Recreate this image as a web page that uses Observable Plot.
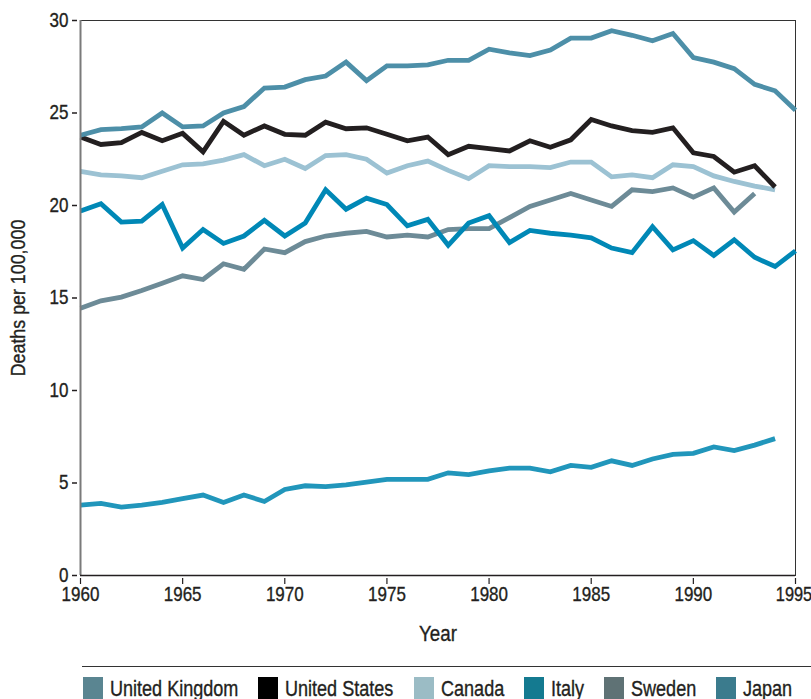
<!DOCTYPE html>
<html>
<head>
<meta charset="utf-8">
<script src="https://cdn.jsdelivr.net/npm/d3@7"></script>
<script src="https://cdn.jsdelivr.net/npm/@observablehq/plot@0.6"></script>
<style>
  html, body { margin: 0; padding: 0; background: #fff; }
  body { width: 811px; height: 699px; overflow: hidden; position: relative;
         font-family: "Liberation Sans", Arial, sans-serif; color: #231f20; }
  #chart { position: absolute; left: 0; top: 0; }
  #chart svg text { stroke: #231f20; stroke-width: 0.35px; }
  #legend { position: absolute; left: 82px; top: 666px; width: 729px; height: 40px;
            border-top: 1.5px solid #333; }
  #legend .sw { position: absolute; top: 10px; width: 20px; height: 26px; }
  #legend .lab { position: absolute; top: 11px; font-size: 22px; line-height: 22px; white-space: nowrap;
                 color: #231f20; transform: scaleX(0.82); transform-origin: 0 0;
                 -webkit-text-stroke: 0.35px #231f20; }
</style>
</head>
<body>
<div id="chart"></div>
<div id="legend"></div>
<script>
// ---- data ----
const years = [1960,1961,1962,1963,1964,1965,1966,1967,1968,1969,
               1970,1971,1972,1973,1974,1975,1976,1977,1978,1979,
               1980,1981,1982,1983,1984,1985,1986,1987,1988,1989,
               1990,1991,1992,1993,1994,1995];

const countries = ["United Kingdom", "United States", "Canada", "Italy", "Sweden", "Japan"];

const unitedKingdom = [23.8, 24.1, 24.15, 24.25, 25.0, 24.25, 24.3, 25.0, 25.35, 26.35,
                       26.4, 26.8, 27.0, 27.75, 26.75, 27.55, 27.55, 27.6, 27.85, 27.85,
                       28.45, 28.25, 28.1, 28.4, 29.05, 29.05, 29.45, 29.2, 28.9, 29.3,
                       28.0, 27.75, 27.4, 26.55, 26.2, 25.15];
const unitedStates = [23.7, 23.3, 23.4, 23.95, 23.5, 23.9, 22.9, 24.55, 23.8, 24.3,
                      23.85, 23.8, 24.5, 24.15, 24.2, 23.85, 23.5, 23.7, 22.75, 23.2,
                      23.07, 22.95, 23.5, 23.15, 23.55, 24.65, 24.3, 24.05, 23.95, 24.2,
                      22.85, 22.65, 21.8, 22.15, 21.0];
const canada = [21.85, 21.65, 21.6, 21.5, 21.85, 22.2, 22.25, 22.45, 22.75, 22.15,
                22.5, 22.0, 22.7, 22.75, 22.5, 21.75, 22.15, 22.4, 21.9, 21.45,
                22.15, 22.1, 22.1, 22.05, 22.35, 22.35, 21.55, 21.65, 21.5, 22.2,
                22.1, 21.6, 21.3, 21.05, 20.85];
const italy = [19.7, 20.1, 19.1, 19.15, 20.05, 17.7, 18.7, 17.95, 18.35, 19.2,
               18.35, 19.05, 20.85, 19.8, 20.4, 20.05, 18.9, 19.25, 17.85, 19.05,
               19.45, 18.0, 18.65, 18.5, 18.4, 18.25, 17.7, 17.45, 18.85, 17.6,
               18.1, 17.3, 18.15, 17.2, 16.7, 17.55];
const sweden = [14.45, 14.85, 15.05, 15.4, 15.8, 16.2, 16.0, 16.85, 16.55, 17.65,
                17.45, 18.05, 18.35, 18.5, 18.6, 18.3, 18.4, 18.3, 18.7, 18.75,
                18.75, 19.35, 19.95, 20.3, 20.65, 20.3, 19.95, 20.85, 20.75, 20.95,
                20.45, 20.95, 19.65, 20.65];
const japan = [3.8, 3.9, 3.7, 3.8, 3.95, 4.15, 4.35, 3.95, 4.35, 4.0,
               4.65, 4.85, 4.8, 4.9, 5.05, 5.2, 5.2, 5.2, 5.55, 5.45,
               5.65, 5.8, 5.8, 5.6, 5.95, 5.85, 6.2, 5.95, 6.3, 6.55,
               6.6, 6.95, 6.75, 7.05, 7.4];

const xTicks = [1960, 1965, 1970, 1975, 1980, 1985, 1990, 1995];
const yTicks = [0, 5, 10, 15, 20, 25, 30];

// ---- styling ----
const lineColors = {
  "United Kingdom": "#4d8fa8",
  "United States": "#231f20",
  "Canada": "#9cc2d3",
  "Italy": "#0088b6",
  "Sweden": "#6d8b97",
  "Japan": "#2196bb"
};
const swatchColors = {
  "United Kingdom": "#5a8591",
  "United States": "#000000",
  "Canada": "#9bbcc5",
  "Italy": "#147a90",
  "Sweden": "#5f7275",
  "Japan": "#3b7b8d"
};

const seriesValues = {
  "United Kingdom": unitedKingdom,
  "United States": unitedStates,
  "Canada": canada,
  "Italy": italy,
  "Sweden": sweden,
  "Japan": japan
};

const table = countries.flatMap(c => seriesValues[c].map((v, i) => ({country: c, year: years[i], value: v})));

const drawOrder = ["Japan", "Sweden", "Italy", "Canada", "United States", "United Kingdom"];

const chart = Plot.plot({
  width: 811,
  height: 650,
  marginLeft: 80,
  marginRight: 16,
  marginTop: 20,
  marginBottom: 75,
  style: { fontFamily: '"Liberation Sans", Arial, sans-serif', color: "#231f20", background: "#fff", overflow: "visible" },
  x: { domain: [1960, 1995] },
  y: { domain: [0, 30] },
  marks: [
    Plot.frame({ stroke: "#333", strokeWidth: 1 }),
    ...drawOrder.map(c => Plot.line(table.filter(d => d.country === c), {
      x: "year", y: "value", stroke: lineColors[c], strokeWidth: 4.8,
      strokeLinejoin: "miter", strokeLinecap: "butt", strokeMiterlimit: 4
    })),
    Plot.ruleX([1960], { stroke: "#7a7a7a", strokeWidth: 2 }),
    Plot.ruleY([0], { stroke: "#231f20", strokeWidth: 1.5 }),
    Plot.axisY({ ticks: yTicks, tickSize: 5, dx: -3, tickPadding: 4, fontSize: 20, label: null, stroke: "#231f20", strokeWidth: 1.5 }),
    Plot.axisX({ ticks: xTicks, tickSize: 6, dy: 3, tickPadding: 2, fontSize: 20, label: null, tickFormat: d => String(d), stroke: "#231f20", strokeWidth: 1.2 }),
    Plot.text(["Deaths per 100,000"], { text: d => d, frameAnchor: "left", textAnchor: "middle", lineAnchor: "middle", dx: -62, rotate: -90, fontSize: 21, fill: "#231f20" }),
    Plot.text(["Year"], { text: d => d, frameAnchor: "bottom", textAnchor: "middle", lineAnchor: "middle", dy: 58, fontSize: 22, fill: "#231f20" })
  ]
});
document.getElementById("chart").appendChild(chart);

// condense all SVG text horizontally (narrow typeface look), scaling about each text's anchor
chart.querySelectorAll("text").forEach(t => {
  const x = parseFloat(t.getAttribute("x")) || 0;
  const tr = t.getAttribute("transform") || "";
  const s = t.textContent === "1995" ? 0.82 : 0.85;
  const shift = t.textContent === "1995" ? -1.5 : 0;
  t.setAttribute("transform", `${tr} translate(${x + shift},0) scale(${s},1) translate(${-x},0)`);
});

// ---- legend ----
const legend = document.getElementById("legend");
let cx = 1;
countries.forEach(c => {
  const sw = document.createElement("span");
  sw.className = "sw";
  sw.style.background = swatchColors[c];
  sw.style.left = cx + "px";
  legend.appendChild(sw);
  const lab = document.createElement("span");
  lab.className = "lab";
  lab.textContent = c;
  lab.style.left = (cx + 27) + "px";
  legend.appendChild(lab);
  const w = lab.getBoundingClientRect().width;
  cx = cx + 27 + w + 20;
});
</script>
</body>
</html>
